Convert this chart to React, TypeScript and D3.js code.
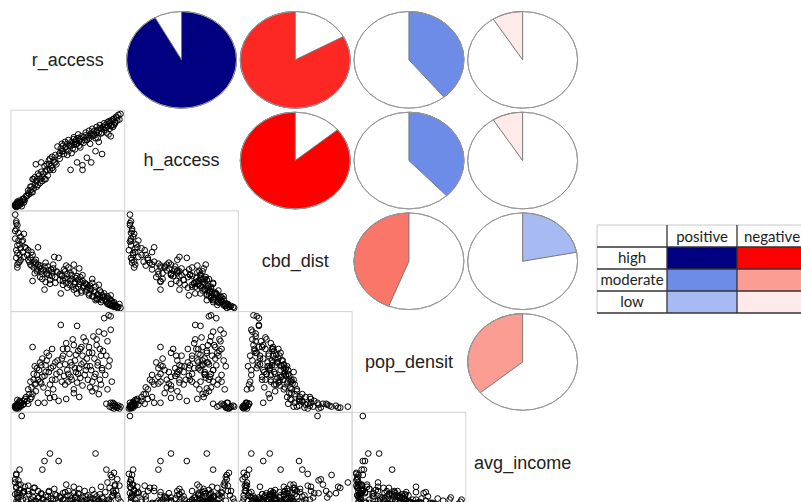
import React from "react";
import * as d3 from "d3";

// variables in the correlogram, in matrix order
const varNames = ["r_access", "h_access", "cbd_dist", "pop_densit", "avg_income"];

const rAccess = [
  1, 2, 3, 2, 4, 7, 9, 3, 2, 4, 3, 5, 6, 1, 5, 8, 2, 6, 10, 3,
  12, 14, 15, 16, 17, 18, 20, 20, 21, 22, 23, 24, 25, 26, 27, 28, 29, 30, 31, 32, 33, 34, 35, 36, 37, 38, 39, 16, 13, 19,
  41, 42, 43, 44, 45, 46, 47, 48, 49, 50, 51, 52, 53, 54, 55, 56, 57, 58, 58, 59, 60, 61, 62, 63, 63, 64, 65, 66, 67, 68, 69, 70, 55, 48, 60,
  71, 72, 73, 74, 75, 75, 76, 77, 78, 79, 80, 81, 82, 83, 84, 85, 86, 87, 88, 89, 90, 72, 78, 80, 86,
  88, 90, 91, 92, 93, 94, 95, 96, 97, 98, 92, 89,
  8, 11, 13, 15, 17, 18, 19, 21, 22, 24, 25, 26, 28, 29, 30, 32, 33, 35, 36, 38,
  40, 42, 44, 45, 47, 49, 50, 52, 53, 55, 56, 57, 59, 61, 62, 64, 66, 67, 69, 70,
  72, 74, 76, 77, 79, 81, 83, 85, 87, 89, 91, 93, 95, 2, 1, 4, 5, 3, 6, 9,
];
const hAccess = [
  1, 2, 1, 3, 2, 1, 5, 4, 2, 3, 5, 4, 6, 2, 7, 6, 0, 3, 8, 6,
  12, 14, 18, 16, 30, 20, 46, 28, 22, 24, 34, 30, 48, 28, 36, 30, 38, 46, 34, 50, 40, 44, 54, 40, 48, 56, 46, 22, 15, 32,
  55, 58, 63, 60, 66, 57, 64, 62, 68, 60, 66, 40, 70, 63, 67, 70, 72, 48, 68, 74, 66, 73, 70, 45, 40, 75, 72, 77, 53, 76, 74, 78, 73, 65, 71,
  48, 80, 78, 82, 60, 74, 81, 83, 80, 85, 84, 57, 86, 83, 88, 80, 87, 78, 90, 76, 88, 76, 70, 79, 91,
  84, 92, 86, 95, 90, 97, 93, 99, 94, 100, 88, 93,
  9, 12, 18, 22, 16, 30, 24, 28, 36, 26, 38, 32, 44, 30, 40, 46, 52, 42, 50, 48,
  65, 52, 68, 60, 70, 56, 72, 66, 58, 75, 62, 68, 78, 64, 76, 69, 80, 72, 82, 68,
  84, 77, 86, 74, 88, 80, 90, 85, 92, 87, 94, 91, 96, 1, 3, 2, 5, 2, 4, 9,
];
const cbdDist = [
  97, 90, 86, 82, 78, 69, 77, 57, 52, 47, 42, 55, 62, 72, 66, 58, 60, 50, 63, 45,
  55, 48, 52, 44, 28, 47, 50, 46, 40, 63, 42, 44, 38, 35, 39, 19, 47, 36, 43, 34, 25, 40, 37, 45, 53, 32, 38, 58, 60, 36,
  52, 35, 15, 33, 28, 40, 31, 26, 35, 42, 24, 36, 30, 22, 38, 27, 20, 33, 15, 29, 25, 32, 18, 28, 34, 23, 26, 17, 24, 21, 13, 20, 45, 44, 41,
  19, 26, 12, 16, 22, 8, 10, 14, 9, 18, 6, 13, 11, 15, 8, 6, 12, 10, 9, 13, 7, 30, 24, 16, 4,
  3, 2, 5, 1, 3, 2, 0, 1, 4, 0, 6, 4,
  70, 62, 50, 45, 55, 42, 48, 38, 45, 32, 41, 30, 43, 27, 35, 39, 29, 33, 41, 26,
  37, 29, 34, 24, 38, 21, 30, 28, 34, 19, 25, 31, 22, 27, 16, 21, 25, 19, 15, 23,
  12, 18, 9, 14, 11, 8, 12, 7, 5, 8, 3, 2, 1, 88, 80, 70, 48, 65, 74, 53,
];
const popDensit = [
  2, 1, 3, 2, 4, 6, 5, 1, 3, 2, 5, 7, 3, 1, 8, 4, 0, 2, 10, 9,
  8, 15, 10, 22, 64, 30, 18, 26, 35, 6, 40, 28, 45, 33, 22, 6, 38, 50, 16, 55, 11, 42, 30, 20, 12, 48, 36, 12, 5, 44,
  8, 45, 87, 52, 62, 34, 25, 68, 40, 28, 57, 33, 45, 72, 20, 50, 38, 27, 86, 60, 42, 32, 64, 55, 24, 48, 35, 70, 44, 30, 58, 22, 16, 10, 12,
  40, 28, 75, 52, 36, 21, 66, 45, 80, 30, 25, 42, 60, 94, 35, 5, 70, 97, 50, 96, 28, 18, 15, 55, 20,
  2, 1, 3, 0, 4, 2, 1, 3, 0, 2, 5, 6,
  4, 12, 20, 28, 15, 36, 25, 42, 30, 48, 26, 52, 34, 45, 58, 38, 25, 62, 44, 30,
  50, 38, 28, 55, 46, 62, 36, 48, 30, 66, 42, 56, 36, 62, 46, 74, 40, 52, 64, 44,
  58, 33, 72, 48, 62, 40, 78, 55, 44, 82, 6, 3, 1, 1, 3, 0, 6, 2, 5, 8,
];
const avgIncome = [
  38, 33, 28, 45, 24, 100, 30, 26, 20, 36, 18, 50, 17, 41, 28, 22, 46, 25, 34, 19,
  20, 27, 17, 22, 29, 33, 18, 21, 16, 30, 24, 19, 27, 50, 22, 58, 20, 17, 25, 29, 65, 23, 18, 21, 32, 16, 26, 19, 35, 15,
  58, 20, 24, 18, 28, 16, 22, 19, 26, 30, 17, 21, 23, 18, 34, 20, 25, 16, 22, 19, 27, 18, 21, 17, 24, 20, 30, 18, 22, 26, 19, 24, 28, 36, 32,
  20, 17, 23, 19, 22, 65, 25, 18, 21, 27, 16, 20, 23, 18, 29, 50, 19, 22, 17, 20, 25, 31, 18, 34, 38,
  33, 43, 26, 47, 36, 30, 41, 23, 35, 20, 28, 45,
  28, 22, 30, 18, 25, 20, 33, 17, 24, 19, 28, 22, 16, 26, 20, 30, 18, 15, 23, 27,
  19, 25, 17, 22, 29, 16, 21, 26, 18, 14, 24, 19, 28, 16, 21, 13, 25, 18, 15, 22,
  17, 27, 14, 20, 16, 24, 13, 18, 21, 15, 30, 35, 26, 34, 27, 40, 31, 24, 36, 29,
];

// correlations shown by the pies (upper triangle)
const corrRows = [
  [1, 0.92, -0.83, 0.39, -0.09],
  [0.92, 1, -0.86, 0.38, -0.09],
  [-0.83, -0.86, 1, -0.44, 0.22],
  [0.39, 0.38, -0.44, 1, -0.36],
  [-0.09, -0.09, 0.22, -0.36, 1],
];

// legend table
const legendCols = ["positive", "negative"];
const legendRows = ["high", "moderate", "low"];
const legendPosShade = [13, 9, 8];
const legendNegShade = [0, 4, 6];

const W = 801;
const H = 502;
const gridX = 11;
const gridY = 9.5;
const cellW = 113.7;
const cellH = 100.7;

export default function App() {
  const cols = [rAccess, hAccess, cbdDist, popDensit, avgIncome];
  const n = varNames.length;

  // pairs()-style 4% padding around each variable's range
  const padded = (v: number[]) => {
    const [lo, hi] = d3.extent(v) as [number, number];
    const p = (hi - lo) * 0.04;
    return [lo - p, hi + p];
  };
  const xs = cols.map((v, k) =>
    d3.scaleLinear().domain(padded(v)).range([gridX + k * cellW, gridX + (k + 1) * cellW])
  );
  const ys = cols.map((v, k) =>
    d3.scaleLinear().domain(padded(v)).range([gridY + (k + 1) * cellH, gridY + k * cellH])
  );

  // corrgram's palette: red - salmon - white - royalblue - navy, 14 shades
  const ramp = d3
    .scaleLinear<string>()
    .domain([0, 0.25, 0.5, 0.75, 1])
    .range(["red", "salmon", "white", "royalblue", "navy"])
    .interpolate(d3.interpolateRgb);
  const pal = d3.range(14).map((i) => ramp(i / 13));
  const shade = d3.scaleQuantize<string>().domain([-1, 1]).range(pal);
  const arc = d3.arc<any>().innerRadius(0).outerRadius(1);

  const rx = (cellW / 2) * 0.967;
  const ry = (cellH / 2) * 0.96;

  const panels: React.ReactNode[] = [];
  for (let i = 0; i < n; i++) {
    for (let j = 0; j < n; j++) {
      const x0 = gridX + j * cellW;
      const y0 = gridY + i * cellH;
      const cx = x0 + cellW / 2;
      const cy = y0 + cellH / 2;
      if (i === j) {
        panels.push(
          <text
            key={`d${i}`}
            x={cx}
            y={cy}
            dy="0.33em"
            textAnchor="middle"
            fontFamily="'Liberation Sans', Arial, sans-serif"
            fontSize={18}
            fill="#222"
          >
            {varNames[i]}
          </text>
        );
      } else if (i > j) {
        panels.push(
          <g key={`s${i}-${j}`}>
            <rect x={x0} y={y0} width={cellW} height={cellH} fill="none" stroke="#d4d4d4" strokeWidth={1} />
            {cols[j].map((v, k) => (
              <circle
                key={k}
                cx={xs[j](v)}
                cy={ys[i](cols[i][k])}
                r={2.85}
                fill="none"
                stroke="#000"
                strokeWidth={1}
              />
            ))}
          </g>
        );
      } else {
        const r = corrRows[i][j];
        const a = 2 * Math.PI * r;
        const d = arc({ startAngle: Math.min(0, a), endAngle: Math.max(0, a) }) as string;
        panels.push(
          <g key={`p${i}-${j}`} transform={`translate(${cx},${cy})`}>
            <ellipse rx={rx} ry={ry} fill="#fff" stroke="#999" strokeWidth={1} />
            <path
              d={d}
              transform={`scale(${rx},${ry})`}
              fill={shade(r)}
              stroke="#777"
              strokeWidth={1}
              vectorEffect="non-scaling-stroke"
            />
            <ellipse rx={rx} ry={ry} fill="none" stroke="#999" strokeWidth={1} />
          </g>
        );
      }
    }
  }

  // legend table
  const tx = 597;
  const ty = 225;
  const tcw = 70;
  const trh = 22;
  const legendFont = "Lato, 'Open Sans', sans-serif";

  return (
    <svg
      width={W}
      height={H}
      style={{ position: "absolute", left: 0, top: 0, background: "#fff" }}
    >
      {panels}
      <g>
        {legendRows.map((lbl, r) => (
          <g key={lbl}>
            <rect x={tx + tcw} y={ty + trh * (r + 1)} width={tcw} height={trh} fill={pal[legendPosShade[r]]} />
            <rect x={tx + 2 * tcw} y={ty + trh * (r + 1)} width={tcw} height={trh} fill={pal[legendNegShade[r]]} />
            <text
              x={tx + tcw / 2}
              y={ty + trh * (r + 1) + 16}
              textAnchor="middle"
              fontFamily={legendFont}
              fontSize={15}
              fill="#222"
            >
              {lbl}
            </text>
          </g>
        ))}
        {legendCols.map((lbl, c) => (
          <text
            key={lbl}
            x={tx + tcw * (c + 1.5)}
            y={ty + 17}
            textAnchor="middle"
            fontFamily={legendFont}
            fontSize={15}
            fill="#222"
          >
            {lbl}
          </text>
        ))}
        <line x1={tx} x2={tx + 3 * tcw} y1={ty} y2={ty} stroke="#c8c8c8" />
        <line x1={tx} x2={tx} y1={ty} y2={ty + 4 * trh} stroke="#c8c8c8" />
        {[1, 2].map((c) => (
          <line key={`v${c}`} x1={tx + c * tcw} x2={tx + c * tcw} y1={ty} y2={ty + 4 * trh} stroke="#333" strokeWidth={1.3} />
        ))}
        {[1, 2, 3, 4].map((r) => (
          <line key={`h${r}`} x1={tx} x2={tx + 3 * tcw} y1={ty + r * trh} y2={ty + r * trh} stroke="#333" strokeWidth={1.3} />
        ))}
      </g>
    </svg>
  );
}
